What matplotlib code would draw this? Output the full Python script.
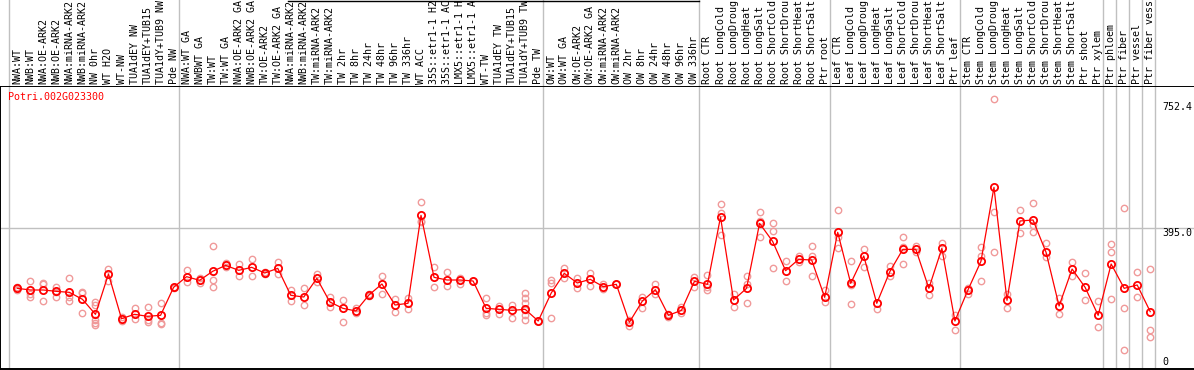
import matplotlib
matplotlib.use("Agg")
import matplotlib.pyplot as plt
from matplotlib.lines import Line2D

gene_id = "Potri.002G023300"

# sample labels as displayed (truncated to 14 characters in the reference)
sample_labels = [
    "NWA:WT", "NWB:WT", "NWA:OE-ARK2", "NWB:OE-ARK2", "NWA:miRNA-ARK2", "NWB:miRNA-ARK2",
    "NW 0hr", "WT H2O", "WT-NW", "TUA1dEY NW", "TUA1dEY+TUB15", "TUA1dY+TUB9 NW", "Pde NW",
    "NWA:WT GA", "NWBWT GA", "TW:WT", "TW:WT GA", "NWA:OE-ARK2 GA", "NWB:OE-ARK2 GA",
    "TW:OE-ARK2", "TW:OE-ARK2 GA", "NWA:miRNA-ARK2", "NWB:miRNA-ARK2", "TW:miRNA-ARK2",
    "TW:miRNA-ARK2", "TW 2hr", "TW 8hr", "TW 24hr", "TW 48hr", "TW 96hr", "TW 336hr",
    "WT ACC", "35S::etr1-1 H2", "35S::etr1-1 AC", "LMX5::etr1-1 H", "LMX5::etr1-1 A",
    "WT-TW", "TUA1dEY TW", "TUA1dEY+TUB15", "TUA1dY+TUB9 TW", "Pde TW",
    "OW:WT", "OW:WT GA", "OW:OE-ARK2", "OW:OE-ARK2 GA", "OW:miRNA-ARK2", "OW:miRNA-ARK2",
    "OW 2hr", "OW 8hr", "OW 24hr", "OW 48hr", "OW 96hr", "OW 336hr",
    "Root CTR", "Root LongCold", "Root LongDroug", "Root LongHeat", "Root LongSalt",
    "Root ShortCold", "Root ShortDrou", "Root ShortHeat", "Root ShortSalt", "Ptr root",
    "Leaf CTR", "Leaf LongCold", "Leaf LongDroug", "Leaf LongHeat", "Leaf LongSalt",
    "Leaf ShortCold", "Leaf ShortDrou", "Leaf ShortHeat", "Leaf ShortSalt", "Ptr leaf",
    "Stem CTR", "Stem LongCold", "Stem LongDroug", "Stem LongHeat", "Stem LongSalt",
    "Stem ShortCold", "Stem ShortDrou", "Stem ShortHeat", "Stem ShortSalt",
    "Ptr shoot", "Ptr xylem", "Ptr phloem", "Ptr fiber", "Ptr vessel", "Ptr fiber vess",
]

mean_values = [
    226.8, 222.1, 222.1, 218.3, 215.5, 195.9, 153.7, 267.1, 141.5, 153.7,
    148.1, 150.9, 229.6, 259.6, 249.3, 274.6, 291.4, 277.4, 285.8, 269.9,
    283.0, 207.1, 202.4, 254.9, 188.4, 170.6, 163.1, 208.0, 239.0, 179.9,
    184.6, 432.0, 257.7, 250.2, 250.2, 247.4, 170.6, 167.7, 164.9, 167.7,
    134.9, 213.7, 269.0, 241.8, 252.1, 231.5, 238.0, 131.2, 191.2, 223.0,
    150.9, 164.9, 246.5, 238.0, 427.3, 194.0, 226.8, 409.5, 358.9, 276.4,
    308.3, 306.4, 201.5, 384.2, 240.8, 317.7, 184.6, 273.6, 336.4, 336.4,
    226.8, 339.2, 134.9, 222.1, 302.7, 510.7, 193.0, 416.1, 418.9, 328.0,
    177.1, 281.1, 229.6, 150.9, 295.2, 226.8, 236.2, 161.2,
]

replicate_values = [
    [231, 224, 222], [247.4, 210.9, 203.4], [242.7, 238.0, 191.2], [231.5, 217.4, 203.4],
    [254.9, 203.4, 191.2], [217.4, 212.7, 156.5], [189.3, 179.9, 137.8, 130.3, 122.8],
    [281.1, 248.3], [147.1, 135.9], [170.6, 139.6], [173.4, 137.8, 133.1],
    [184.6, 130.3, 125.6], [231.5, 226.8], [277.4, 245.5], [254.9, 240.8],
    [345.8, 249.3, 231.5], [298.9, 285.8], [295.2, 262.4], [309.3, 260.5],
    [273.6, 267.1], [300.8, 266.1], [222.1, 192.1], [226.8, 179.9], [266.1, 245.5],
    [201.5, 173.4], [194.0, 131.2], [170.6, 158.4], [210.9, 206.0], [261.5, 210.9],
    [195.9, 161.2], [198.7, 168.7], [468.6, 415.0, 412.3], [286.8, 229.6],
    [273.6, 233.3], [254.9, 238.0], [247.4], [198.7, 158.4, 150.9], [177.0, 153.7],
    [179.9, 142.4], [212.7, 198.7, 184.6, 165.8, 151.8, 137.8], [134.9],
    [250.2, 242.7, 144.3], [284.9, 254.9], [256.8, 226.8], [269.0, 234.3],
    [239.0, 224.0], [238.0], [137.8, 120.9], [203.4, 172.4], [239.0, 209.9],
    [153.7, 147.1], [173.4, 156.5], [259.6, 231.5], [264.3, 231.5, 222.1],
    [462.9, 437.6, 376.7], [210.9, 175.2], [261.5, 238.0, 184.6],
    [441.4, 417.0, 372.0], [409.5, 388.9, 283.0], [304.6, 248.3], [317.7, 301.7],
    [345.8, 317.7, 261.5], [222.1, 189.3], [447.0, 372.0, 339.2],
    [304.6, 236.2, 181.8], [337.4, 287.7], [167.7], [289.6, 261.5],
    [370.2, 343.9, 295.2], [345.8, 329.9], [242.7, 208.0], [353.3, 317.7],
    [151.8, 109.6], [226.8, 209.9], [343.9, 318.6, 247.4], [758.0, 442.3, 328.0],
    [210.9, 172.4], [447.0, 381.4], [465.7, 404.8, 384.2], [353.3, 315.8],
    [198.7, 154.6], [299.9, 261.5], [269.0, 194.0], [191.2, 119.0],
    [351.4, 329.9, 195.9], [451.7, 170.6, 53.4], [271.8, 201.5], [280.2, 109.6, 90.9],
]

group_boundaries = [-1, 12, 40, 52, 62, 72, 83, 84, 85, 86, 87]
ytick_values = [752.4, 395.0, 0]
ytick_texts = ["752.4", "395.0", "0"]

W, H = 1194, 370
fig = plt.figure(figsize=(W / 100, H / 100), dpi=100)

# pixel geometry
x0_px, dx_px = 19.3, 13.0
def px_to_x(px):
    return (px - x0_px) / dx_px

plot_top_px, plot_bot_px = 86, 369
px_per_unit = 0.3557
ymax = (plot_bot_px - plot_top_px) / px_per_unit

ax = fig.add_axes([0, (H - plot_bot_px) / H, 1.0, (plot_bot_px - plot_top_px) / H])
hx = fig.add_axes([0, (H - plot_top_px) / H, 1.0, plot_top_px / H], sharex=ax)

xlim = (px_to_x(2), px_to_x(W))
ax.set_xlim(*xlim)
ax.set_ylim(0, ymax)
hx.set_ylim(0, 1)

grid_col = "#c0c0c0"
for b in group_boundaries:
    xb = b + 0.38
    ax.axvline(xb, color=grid_col, lw=1.0, zorder=0)
    hx.axvline(xb, color=grid_col, lw=1.0, zorder=0)
ax.axhline(395.0, color=grid_col, lw=1.0, zorder=0)

for a in (ax, hx):
    a.set_xticks([])
    a.set_yticks([])
    for s in a.spines.values():
        s.set_visible(False)
for s in ("left", "bottom", "top"):
    ax.spines[s].set_visible(True)
    ax.spines[s].set_color("black")
    ax.spines[s].set_linewidth(1.4)
ax.spines["left"].set_position(("data", xlim[0] + 0.02))
hx.axvline(xlim[0] - 0.05, color="black", lw=1.4)

mono = "DejaVu Sans Mono"
fs = 7.2

# replicate points
for i, reps in enumerate(replicate_values):
    ax.plot([i] * len(reps), reps, linestyle="none", marker="o", ms=4.6,
            mfc="none", mec="#f09a9a", mew=1.0, zorder=2)

xs = list(range(len(mean_values)))
ax.plot(xs, mean_values, color="red", lw=0.9, zorder=3)
ax.plot(xs, mean_values, linestyle="none", marker="o", ms=5.2, mfc="none",
        mec="red", mew=1.3, zorder=4)

# header labels
for i, lab in enumerate(sample_labels):
    hx.text(i, (plot_top_px - 83.5) / plot_top_px, lab, rotation=90, ha="center",
            va="bottom", fontsize=fs, family=mono, color="black", clip_on=True)

# gene id
ax.text(px_to_x(9.5), ymax - (96.7 - plot_top_px) / px_per_unit, gene_id,
        color="red", fontsize=fs, family=mono, ha="left", va="center")

# y labels
label_centers_px = [106.7, 232.7, 361.7]
for val, txt, cy in zip(ytick_values, ytick_texts, label_centers_px):
    ax.text(px_to_x(1162.5), (plot_bot_px - cy) / px_per_unit, txt, fontsize=fs,
            family=mono, ha="left", va="center", color="black", clip_on=False)

# thin top line segment in header
fig.add_artist(Line2D([288 / W, 699 / W], [1 - 0.5 / H, 1 - 0.5 / H],
                      color="black", lw=1.0, transform=fig.transFigure))

fig.savefig("out.png", dpi=100)
